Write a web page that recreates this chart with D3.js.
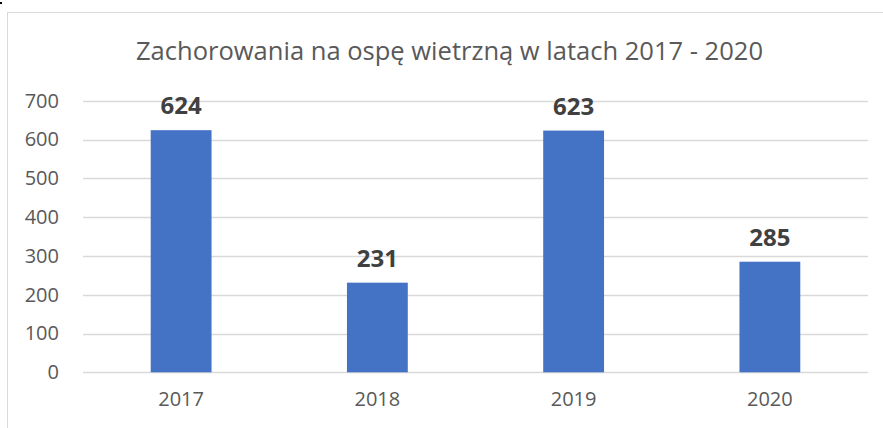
<!DOCTYPE html>
<html>
<head>
<meta charset="utf-8">
<script src="https://cdn.jsdelivr.net/npm/d3@7"></script>
<style>
  body { margin: 0; background: #fff; }
  svg { display: block; font-family: "Open Sans", sans-serif; }
</style>
</head>
<body>
<div id="chart"></div>
<script>
"use strict";

// data
var years = ["2017", "2018", "2019", "2020"];
var cases = [624, 231, 623, 285];
var yTicks = [0, 100, 200, 300, 400, 500, 600, 700];
var title = "Zachorowania na ospę wietrzną w latach 2017 - 2020";

var W = 883, H = 428;
var plot = { left: 83, right: 868, top: 100.7, bottom: 372.3 };

var svg = d3.select("#chart").append("svg")
  .attr("width", W)
  .attr("height", H);

// chart frame
svg.append("rect")
  .attr("x", 7.5).attr("y", 12.5)
  .attr("width", W + 20).attr("height", H + 20)
  .attr("fill", "none")
  .attr("stroke", "#d9d9d9");
svg.append("rect").attr("x", 0).attr("y", 2).attr("width", 2).attr("height", 2).attr("fill", "#000");

var x = d3.scaleBand()
  .domain(years)
  .range([plot.left, plot.right])
  .paddingInner(0.69)
  .paddingOuter(0.345);

var y = d3.scaleLinear()
  .domain([0, 700])
  .range([plot.bottom, plot.top]);

// gridlines
svg.append("g")
  .selectAll("line")
  .data(yTicks)
  .enter().append("line")
  .attr("x1", plot.left).attr("x2", plot.right)
  .attr("y1", function (d) { return Math.round(y(d)) + 0.5; })
  .attr("y2", function (d) { return Math.round(y(d)) + 0.5; })
  .attr("stroke", "#d9d9d9")
  .attr("stroke-width", 1.5);

// y axis labels
var yAxis = d3.axisLeft(y).tickValues(yTicks).tickSize(0).tickPadding(0);
var gy = svg.append("g")
  .attr("transform", "translate(59,0)")
  .call(yAxis);
gy.select(".domain").remove();
gy.selectAll("text")
  .attr("font-family", "Open Sans")
  .attr("font-size", 20)
  .attr("fill", "#595959");

// x axis labels
var xAxis = d3.axisBottom(x).tickSize(0).tickPadding(0);
var gx = svg.append("g")
  .attr("transform", "translate(0,392)")
  .call(xAxis);
gx.select(".domain").remove();
gx.selectAll("text")
  .attr("font-family", "Open Sans")
  .attr("font-size", 20)
  .attr("fill", "#595959");

// bars
svg.append("g")
  .selectAll("rect")
  .data(cases)
  .enter().append("rect")
  .attr("x", function (d, i) { return x(years[i]); })
  .attr("width", x.bandwidth())
  .attr("y", function (d) { return y(d); })
  .attr("height", function (d) { return y(0) - y(d); })
  .attr("fill", "#4472c4");

// value labels
svg.append("g")
  .selectAll("text")
  .data(cases)
  .enter().append("text")
  .attr("x", function (d, i) { return x(years[i]) + x.bandwidth() / 2; })
  .attr("y", function (d) { return y(d) - 16; })
  .attr("text-anchor", "middle")
  .attr("font-size", 24)
  .attr("font-weight", "bold")
  .attr("fill", "#404040")
  .text(function (d) { return d; });

// title
svg.append("text")
  .attr("x", 449.5)
  .attr("y", 60)
  .attr("text-anchor", "middle")
  .attr("font-size", 25)
  .attr("fill", "#595959")
  .attr("textLength", 627)
  .attr("lengthAdjust", "spacingAndGlyphs")
  .text(title);
</script>
</body>
</html>
